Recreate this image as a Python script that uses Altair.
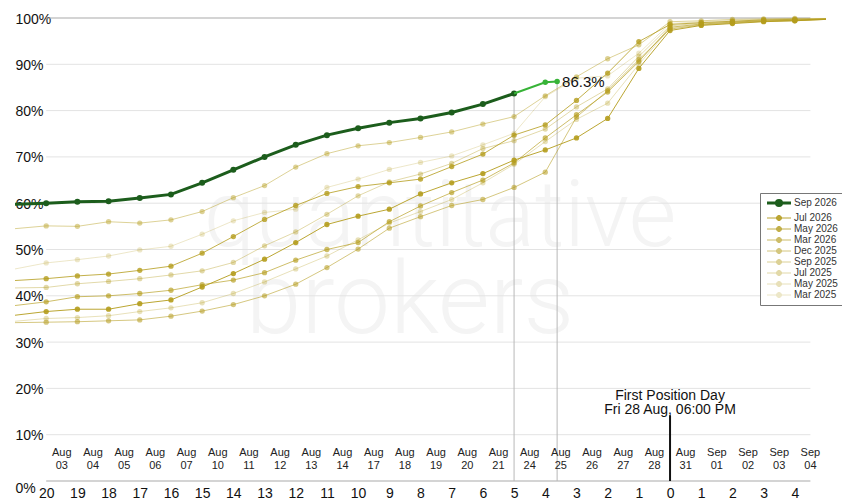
import altair as alt
import pandas as pd

# ---------------- data ----------------
series_names = ["Sep 2026", "Jul 2026", "May 2026", "Mar 2026", "Dec 2025",
                "Sep 2025", "Jul 2025", "May 2025", "Mar 2025"]

# business-day index relative to First Position Day (0 = Fri 28 Aug, 06:00 PM)
day_index = list(range(-21, 6))

# current contract (Sep 2026), settled days
sep26_index = list(range(-21, -4))
sep26 = [59.8, 60.0, 60.3, 60.4, 61.1, 61.9, 64.4, 67.2, 70.0,
         72.6, 74.7, 76.2, 77.4, 78.3, 79.6, 81.4, 83.7]
# current contract, live segment
live_index = [-5, -4, -3.62]
live = [83.7, 86.1, 86.3]

jul26 = [35.8, 36.6, 37.1, 37.1, 38.3, 39.1, 41.9, 44.8, 47.9,
         51.5, 55.4, 57.2, 58.7, 62.0, 64.4, 66.4, 69.3,
         71.5, 74.1, 78.3, 89.1, 97.3, 98.4, 98.8, 99.2, 99.4, 99.7]
may26 = [43.3, 43.7, 44.3, 44.7, 45.5, 46.4, 49.2, 52.8, 56.5,
         59.5, 62.1, 63.6, 64.4, 65.2, 67.9, 70.6, 74.7,
         76.9, 82.2, 88.1, 94.9, 98.6, 99.0, 99.3, 99.6, 99.7, 99.8]
mar26 = [37.9, 38.7, 39.8, 40.0, 40.5, 41.2, 42.4, 43.4, 45.0,
         47.7, 50.0, 51.5, 56.0, 59.4, 62.3, 65.0, 68.7,
         74.1, 79.1, 84.0, 90.6, 98.0, 98.7, 99.1, 99.4, 99.5, 99.8]
dec25 = [34.2, 34.3, 34.4, 34.6, 34.8, 35.6, 36.7, 38.1, 40.0,
         42.5, 46.1, 50.1, 54.6, 57.1, 59.5, 60.8, 63.4,
         66.7, 78.6, 84.3, 91.0, 97.6, 98.5, 98.9, 99.3, 99.4, 99.7]
sep25 = [54.5, 55.1, 55.0, 56.0, 55.7, 56.4, 58.2, 61.2, 63.8,
         67.8, 70.7, 72.4, 73.1, 74.2, 75.4, 77.1, 78.7,
         83.2, 87.3, 91.2, 94.2, 99.2, 99.4, 99.7, 99.8, 99.9, 99.9]
jul25 = [41.7, 41.8, 42.6, 43.1, 43.7, 44.5, 45.4, 47.2, 50.8,
         53.8, 57.6, 61.6, 64.6, 66.3, 68.6, 71.8, 73.5,
         76.0, 80.8, 84.7, 91.7, 98.3, 98.9, 99.2, 99.5, 99.6, 99.8]
may25 = [34.5, 35.1, 35.3, 35.7, 36.6, 37.4, 38.5, 40.5, 43.0,
         45.8, 48.6, 52.1, 55.7, 58.2, 60.8, 64.4, 68.4,
         73.3, 78.1, 81.6, 90.0, 97.8, 98.6, 99.0, 99.3, 99.5, 99.7]
mar25 = [45.8, 47.1, 47.8, 48.6, 49.9, 50.7, 53.3, 56.2, 58.0,
         58.7, 63.4, 65.2, 67.3, 68.8, 70.2, 72.6, 75.1,
         83.0, 87.0, 87.5, 92.4, 98.8, 99.2, 99.5, 99.7, 99.8, 99.8]

date_labels = ["Aug 03", "Aug 04", "Aug 05", "Aug 06", "Aug 07",
               "Aug 10", "Aug 11", "Aug 12", "Aug 13", "Aug 14",
               "Aug 17", "Aug 18", "Aug 19", "Aug 20", "Aug 21",
               "Aug 24", "Aug 25", "Aug 26", "Aug 27", "Aug 28",
               "Aug 31", "Sep 01", "Sep 02", "Sep 03", "Sep 04"]
first_label_index = -20

y_ticks = list(range(0, 101, 10))
x_ticks = list(range(-20, 5))

fpd_text = "First Position Day\nFri 28 Aug, 06:00 PM"
fpd_height = 14.2

# ---------------- tables ----------------
gold = {"Jul 2026": jul26, "May 2026": may26, "Mar 2026": mar26, "Dec 2025": dec25,
        "Sep 2025": sep25, "Jul 2025": jul25, "May 2025": may25, "Mar 2025": mar25}
rows = []
for name in reversed(list(gold.keys())):
    for i, v in zip(day_index, gold[name]):
        rows.append({"idx": i, "value": v, "series": name})
gold_df = pd.DataFrame(rows)
gold_pts = gold_df[(gold_df.idx >= x_ticks[0]) & (gold_df.idx <= x_ticks[-1])]

cur_df = pd.DataFrame({"idx": sep26_index, "value": sep26, "series": "Sep 2026"})
cur_pts = cur_df[cur_df.idx >= x_ticks[0]]
live_df = pd.DataFrame({"idx": live_index, "value": live})
live_pts = live_df.iloc[1:]

grid_df = pd.DataFrame({"v": y_ticks, "x0": x_ticks[0], "x1": x_ticks[-1] + 0.5})
vline_df = pd.DataFrame({"idx": [sep26_index[-1], live_index[-1]],
                         "value": [sep26[-1], live[-1]], "zero": 0})
fpd_df = pd.DataFrame({"idx": [0], "y0": [0], "y1": [fpd_height], "t": [fpd_text]})
date_df = pd.DataFrame({"idx": [first_label_index + k + 0.5 for k in range(len(date_labels))],
                        "t": [d.replace(" ", "\n") for d in date_labels]})
lab_df = pd.DataFrame({"idx": [live_index[-1]], "value": [live[-1]],
                       "t": [f"{live[-1]:.1f}%"]})

# ---------------- scales / encodings ----------------
FONT = "Liberation Sans"
xs = alt.Scale(domain=[-21, 5], nice=False, zero=False)
ys = alt.Scale(domain=[0, 100], nice=False, zero=False)

x_axis = alt.Axis(values=x_ticks, labelExpr="abs(datum.value)", labelFontSize=14,
                  labelColor="#111", domain=False, ticks=False, grid=False,
                  labelPadding=5, labelFlush=False, labelOverlap=False, labelFont=FONT)
y_axis = alt.Axis(values=y_ticks, labelExpr="datum.value + '%'", orient="left",
                  labelAlign="left", labelPadding=0, tickSize=0, ticks=False,
                  domain=False, grid=False, labelFontSize=14, labelColor="#111",
                  labelFlush=False, labelOverlap=False, labelFont=FONT,
                  labelOffset={"condition": {"test": "datum.value == 0", "value": 7}, "value": 1})

gold_col = "#b49c1c"
color_scale = alt.Scale(domain=series_names, range=["#1c5d1c"] + [gold_col] * 8)
opac_scale = alt.Scale(type="ordinal", domain=series_names,
                       range=[1, 0.9, 0.8, 0.66, 0.56, 0.46, 0.38, 0.3, 0.24])
width_scale = alt.Scale(type="ordinal", domain=series_names, range=[3] + [1] * 8)

sym = "M-4,0H4" + "".join(f"M{-r},0A{r},{r} 0 1 0 {r},0A{r},{r} 0 1 0 {-r},0"
                          for r in [0.1, 0.35, 0.6, 0.85])
leg = alt.Legend(title=None, orient="none", legendX=745, legendY=175, fillColor="white",
                 strokeColor="#777", padding=5, labelFontSize=10, labelFont=FONT,
                 labelFontWeight="normal", labelColor="#333", symbolType=sym,
                 symbolSize=36, symbolOffset=9, labelOffset=10, rowPadding=1)

X = lambda f="idx": alt.X(f"{f}:Q", scale=xs, axis=x_axis, title=None)
Y = lambda f="value": alt.Y(f"{f}:Q", scale=ys, axis=y_axis, title=None)

# ---------------- layers ----------------
wm1 = alt.Chart(pd.DataFrame({"t": ["quantitative"]})).mark_text(
    font="Roboto", fontWeight=300, fontSize=92, color="#f4f4f4", align="center",
    baseline="alphabetic").encode(text="t:N", x=alt.value(425), y=alt.value(228))
wm2 = alt.Chart(pd.DataFrame({"t": ["brokers"]})).mark_text(
    font="Roboto", fontWeight=300, fontSize=100, color="#f4f4f4", align="center",
    baseline="alphabetic").encode(text="t:N", x=alt.value(395), y=alt.value(315))

grid = alt.Chart(grid_df).mark_rule(strokeWidth=1).encode(
    x=X("x0"), x2="x1:Q", y=Y("v"),
    color=alt.condition("datum.v == 0 || datum.v == 100", alt.value("#a9a9a9"), alt.value("#e3e3e3")))

vlines = alt.Chart(vline_df).mark_rule(color="#b8b8b8", strokeWidth=1).encode(
    x=X(), y=Y(), y2="zero:Q")

fpd_rule = alt.Chart(fpd_df).mark_rule(color="#111", strokeWidth=2).encode(
    x=X(), y=Y("y0"), y2="y1:Q")
fpd_txt = alt.Chart(fpd_df).mark_text(fontSize=14, font=FONT, color="#111", align="center",
                                      baseline="bottom", lineBreak="\n", lineHeight=14, dy=-12).encode(
    x=X(), y=Y("y1"), text="t:N")

enc_common = dict(
    color=alt.Color("series:N", scale=color_scale, legend=leg),
    opacity=alt.Opacity("series:N", scale=opac_scale, legend=leg),
    strokeWidth=alt.StrokeWidth("series:N", scale=width_scale, legend=leg),
)
enc_pts = dict(
    color=alt.Color("series:N", scale=color_scale, legend=None),
    opacity=alt.Opacity("series:N", scale=opac_scale, legend=None),
)

gold_lines = alt.Chart(gold_df).mark_line().encode(
    x=X(), y=Y(), detail="series:N", order="idx:Q", **enc_common)
gold_points = alt.Chart(gold_pts).mark_point(filled=True, size=28, strokeWidth=0).encode(
    x=X(), y=Y(), detail="series:N", **enc_pts)

cur_line = alt.Chart(cur_df).mark_line().encode(x=X(), y=Y(), order="idx:Q", **enc_common)
cur_points = alt.Chart(cur_pts).mark_point(filled=True, size=36, strokeWidth=0).encode(
    x=X(), y=Y(), **enc_pts)

live_line = alt.Chart(live_df).mark_line(color="#37b337", strokeWidth=2).encode(
    x=X(), y=Y(), order="idx:Q")
live_points = alt.Chart(live_pts).mark_point(filled=True, size=30, color="#37b337", opacity=1,
                                             strokeWidth=0).encode(x=X(), y=Y())

val_label = alt.Chart(lab_df).mark_text(fontSize=15, font=FONT, color="#111", align="left",
                                        baseline="middle", dx=5, dy=1).encode(
    x=X(), y=Y(), text="t:N")

dates = alt.Chart(date_df).mark_text(fontSize=11, font=FONT, color="#222", align="center",
                                     baseline="top", lineBreak="\n", lineHeight=13).encode(
    x=X(), y=alt.value(429), text="t:N")

chart = alt.layer(
    wm1, wm2, grid, vlines, gold_lines, gold_points, cur_line, cur_points,
    live_line, live_points, fpd_rule, fpd_txt, val_label, dates
).properties(
    width=811, height=463,
    autosize=alt.AutoSizeParams(type="none"),
    padding={"left": 7, "top": 10, "right": 16, "bottom": 20},
    background="white",
).configure_view(stroke=None)

chart.save("out.html", embed_options={"renderer": "svg", "actions": False})
